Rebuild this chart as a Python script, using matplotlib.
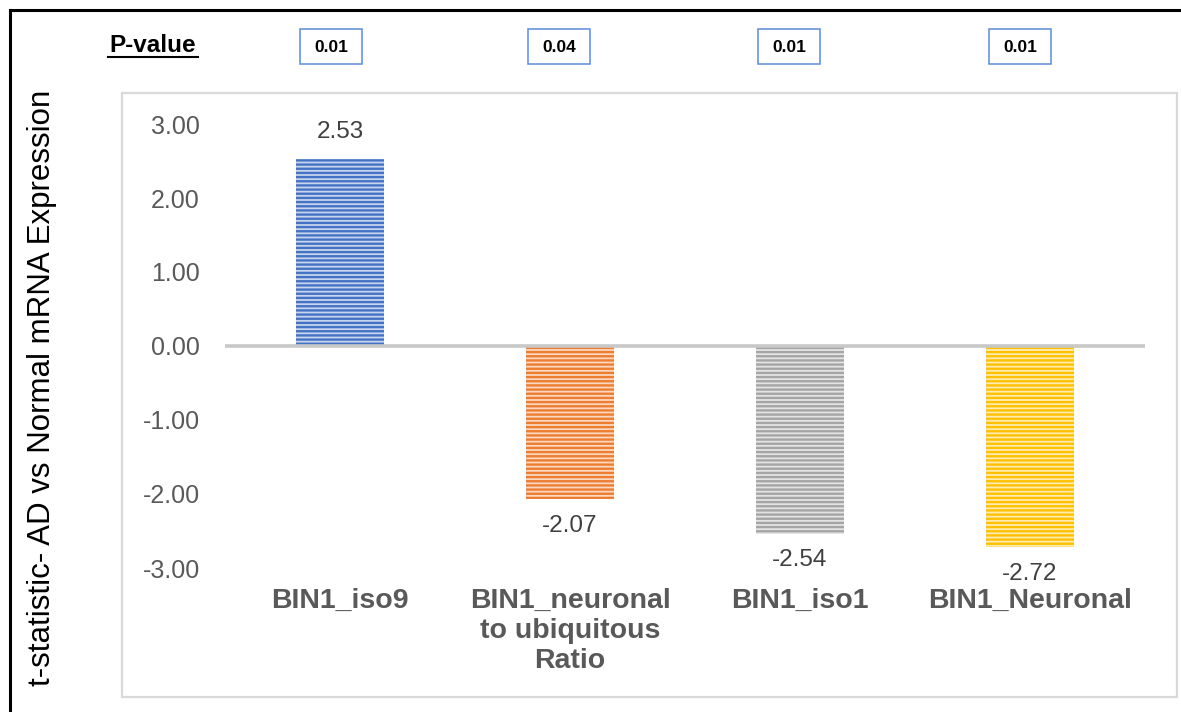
import matplotlib.pyplot as plt
from matplotlib.patches import Rectangle
from matplotlib.lines import Line2D
from matplotlib.colors import to_rgb
from matplotlib.ticker import FuncFormatter

categories = ["BIN1_iso9", "BIN1_neuronal\nto ubiquitous\nRatio", "BIN1_iso1", "BIN1_Neuronal"]
t_values = [2.53, -2.07, -2.54, -2.72]
p_values = ["0.01", "0.04", "0.01", "0.01"]
bar_colors = ["#4472C4", "#ED7D31", "#A5A5A5", "#FFC000"]
y_ticks = [-3, -2, -1, 0, 1, 2, 3]

plt.rcParams["font.family"] = ["Liberation Sans", "DejaVu Sans"]
plt.rcParams["hatch.linewidth"] = 1.7

W, H = 1181, 712
fig = plt.figure(figsize=(W / 100, H / 100), dpi=100)


def fx(px):
    return px / W


def fy(py):
    return 1 - py / H


def lighten(c, amt=0.6):
    r, g, b = to_rgb(c)
    return (r + (1 - r) * amt, g + (1 - g) * amt, b + (1 - b) * amt)


# outer frame (top and left) and light grey chart border
fig.add_artist(Line2D([fx(10), fx(1181)], [fy(10), fy(10)], color="black", lw=2.2))
fig.add_artist(Line2D([fx(10), fx(10)], [fy(10), fy(712)], color="black", lw=2.2))
fig.add_artist(Rectangle((fx(122), fy(697)), fx(1177) - fx(122), fy(93) - fy(697),
                         fill=False, edgecolor="#D9D9D9", lw=1.6))

# plot area: 3.00 at y=124 px, -3.00 at y=568 px
top_px, bot_px = 110, 590
scale = 74.0
ymax = 3 + (124 - top_px) / scale
ymin = -3 - (bot_px - 568) / scale
ax = fig.add_axes([fx(225), fy(bot_px), fx(1145) - fx(225), fy(top_px) - fy(bot_px)])
ax.set_xlim(-0.5, 3.5)
ax.set_ylim(ymin, ymax)

x = list(range(len(categories)))
for xi, v, c in zip(x, t_values, bar_colors):
    ax.bar(xi, v, width=0.38, color=lighten(c, 0.7), edgecolor=c, hatch="----", lw=0, zorder=2)
    off = 19 if v > 0 else -19
    ax.annotate(f"{v:.2f}", (xi, v), xytext=(0, off), textcoords="offset points",
                ha="center", va="center", fontsize=17.5, color="#404040", zorder=4)

ax.axhline(0, color="#C8C8C8", lw=2.6, zorder=3)

for s in ax.spines.values():
    s.set_visible(False)
ax.set_xticks([])
ax.set_yticks(y_ticks)
ax.yaxis.set_major_formatter(FuncFormatter(lambda v, pos: f"{v:.2f}"))
ax.tick_params(axis="y", length=0, pad=18, labelsize=18, labelcolor="#595959")

# category labels under the plot area
for xi, lab in zip(x, categories):
    ax.text(xi, -3 - (588 - 568) / scale, lab, ha="center", va="top", fontsize=20.5,
            fontweight="bold", color="#595959", linespacing=1.2)

fig.text(fx(42), fy(388), "t-statistic- AD vs Normal mRNA Expression", rotation=90,
         ha="center", va="center", fontsize=22.5, color="black")

# p-value row
fig.text(fx(153), fy(46), "P-value", ha="center", va="center", fontsize=17.5,
         fontweight="bold", color="black")
fig.add_artist(Line2D([fx(108), fx(198)], [fy(57), fy(57)], color="black", lw=1.5))
box_centers = [331, 559, 789, 1020]
for cx, p in zip(box_centers, p_values):
    fig.add_artist(Rectangle((fx(cx - 31), fy(64)), fx(62), fy(29) - fy(64),
                             fill=False, edgecolor="#5B8BD9", lw=1.1))
    fig.text(fx(cx), fy(47), p, ha="center", va="center", fontsize=12.5,
             fontweight="bold", color="black")

fig.savefig("out.png", dpi=100)
